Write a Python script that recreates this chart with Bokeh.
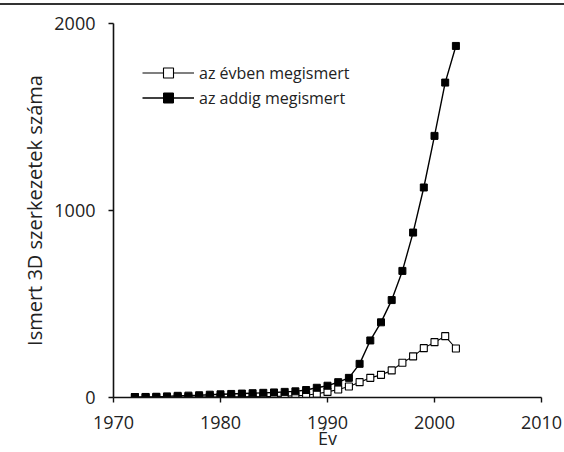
from bokeh.plotting import figure
from bokeh.layouts import column
from bokeh.models import Range1d, FixedTicker, Legend, LegendItem, Div
from bokeh.embed import file_html
from bokeh.resources import INLINE

years = [1972, 1973, 1974, 1975, 1976, 1977, 1978, 1979, 1980, 1981,
         1982, 1983, 1984, 1985, 1986, 1987, 1988, 1989, 1990, 1991,
         1992, 1993, 1994, 1995, 1996, 1997, 1998, 1999, 2000, 2001, 2002]
per_year = [2, 1, 1, 2, 3, 2, 3, 4, 3, 4,
            4, 5, 4, 6, 7, 10, 12, 20, 30, 43,
            59, 82, 105, 121, 145, 186, 220, 264, 296, 328, 262]
cumulative = [2, 3, 4, 6, 9, 10, 12, 15, 17, 19,
              21, 23, 25, 27, 30, 33, 40, 52, 63, 82,
              105, 180, 305, 402, 521, 677, 882, 1123, 1399, 1684, 1880]
x_ticks = [1970, 1980, 1990, 2000, 2010]
y_ticks = [0, 1000, 2000]
label_open = "az évben megismert"
label_cum = "az addig megismert"
x_title = "Év"
y_title = "Ismert 3D szerkezetek száma"

FONT = "Open Sans"
TXT = "#222222"

rule = Div(text="", width=564, height=2, margin=(3, 0, 0, 0),
           styles={"background-color": "#333333"})

p = figure(width=564, height=447, output_backend="svg", toolbar_location=None,
           x_range=Range1d(1970, 2010), y_range=Range1d(0, 2000),
           min_border_left=113, min_border_right=23, min_border_top=18,
           min_border_bottom=55, margin=0)
p.outline_line_color = None
p.xgrid.visible = False
p.ygrid.visible = False
p.background_fill_color = "white"
p.border_fill_color = "white"

for ax in (p.xaxis[0], p.yaxis[0]):
    ax.major_tick_out = 5
    ax.major_tick_in = 0
    ax.minor_tick_out = 0
    ax.minor_tick_in = 0
    ax.axis_line_width = 1.6
    ax.axis_line_color = "#111111"
    ax.major_tick_line_color = "#111111"
    ax.major_tick_line_width = 1.4
    ax.major_label_text_font = FONT
    ax.major_label_text_font_size = "18px"
    ax.major_label_text_color = TXT
    ax.axis_label_text_font = FONT
    ax.axis_label_text_font_size = "18px"
    ax.axis_label_text_font_style = "normal"
    ax.axis_label_text_color = TXT

p.xaxis[0].ticker = FixedTicker(ticks=x_ticks)
p.yaxis[0].ticker = FixedTicker(ticks=y_ticks)
p.xaxis[0].axis_label = x_title
p.yaxis[0].axis_label = y_title
p.yaxis[0].axis_label_text_font_size = "20px"
p.xaxis[0].major_label_standoff = 13
p.xaxis[0].axis_label_standoff = -6
p.yaxis[0].major_label_standoff = 13
p.yaxis[0].axis_label_standoff = 3

r1 = p.line(years, per_year, line_color="black", line_width=1.1)
s1 = p.scatter(years, per_year, marker="square", size=7, fill_color="white",
               line_color="black", line_width=1.1)
r2 = p.line(years, cumulative, line_color="black", line_width=1.4)
s2 = p.scatter(years, cumulative, marker="square", size=7, fill_color="black",
               line_color="black", line_width=1.0)

legend = Legend(items=[LegendItem(label=label_open, renderers=[r1, s1]),
                       LegendItem(label=label_cum, renderers=[r2, s2])],
                location=(29, 287), padding=0, margin=0, spacing=0,
                glyph_width=52, glyph_height=25, label_height=25,
                label_standoff=5, border_line_color=None,
                background_fill_alpha=0,
                label_text_font=FONT, label_text_font_size="16px",
                label_text_color=TXT)
p.add_layout(legend)

layout = column(rule, p, spacing=0)

open("out.html", "w").write(file_html(layout, INLINE))
